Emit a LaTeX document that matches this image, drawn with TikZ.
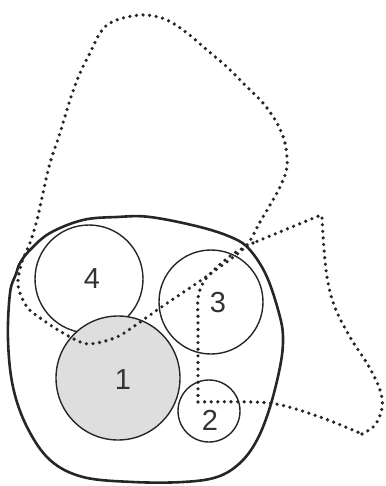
\documentclass[tikz,border=0pt]{standalone}
\usepackage{fontspec}
\setmainfont{Liberation Sans}
\begin{document}
\begin{tikzpicture}[x=1pt,y=-1pt,
  outerline/.style={line width=2.6pt,draw=black!85,line join=round},
  circ/.style={circle,draw=black!85,line width=1.4pt,inner sep=0pt},
  dots/.style={draw=black!85,line width=3.6pt,line cap=round,dash pattern=on 0pt off 6.6pt},
  lab/.style={font=\fontsize{29}{30}\selectfont,text=black!80,inner sep=0pt}]
\useasboundingbox (0,0) rectangle (385,486);
% outer solid contour
\draw[outerline] plot[smooth cycle,tension=0.6] coordinates {
 (20,263) (30,250) (50,233) (83,220) (117,217) (150,217) (200,227) (233,238) (250,250)
 (267,277) (280,317) (283,340) (280,367) (270,407) (257,440) (240,463) (217,477)
 (183,482) (133,482) (83,477) (50,460) (27,427) (13,387) (8,340) (10,293) (16,274)};
% circles
\node[circ,minimum size=108pt] (c4) at (89,279) {};
\node[circ,minimum size=124pt,fill=black!13] (c1) at (118,378) {};
\node[circ,minimum size=104pt] (c3) at (211,302) {};
\node[circ,minimum size=62pt] (c2) at (209,411) {};
% dotted loop 1
\draw[dots] plot[smooth cycle,tension=0.55] coordinates {
 (247,245) (260,222) (270,205) (280,187) (287,167) (285,143) (277,123) (263,103)
 (247,87) (227,67) (207,50) (187,33) (167,20) (147,15) (127,17) (110,23) (100,33)
 (90,53) (80,73) (70,100) (60,133) (50,163) (43,193) (37,220) (30,243) (22,262)
 (18,285) (27,307) (43,320) (63,333) (83,343) (97,343) (117,337) (133,327)
 (160,308) (200,281) (228,261)};
% dotted loop 2
\coordinate (p0) at (198,402);
\coordinate (p1) at (362,434);
\coordinate (p2) at (321,215);
\coordinate (p3) at (253,243);
\draw[dots] plot[smooth,tension=0.5] coordinates {(198,402) (270,403) (320,417) (362,434)}
  plot[smooth,tension=0.6] coordinates {(362,434) (375,425) (382,408) (380,390) (368,365)
   (350,337) (334,305) (326,270) (322,218)}
  -- (p2) -- (p3)
  plot[smooth,tension=0.6] coordinates {(253,243) (233,254) (215,269) (203,283) (198,298) (198,315)}
  -- (p0);
% labels
\node[lab] (l4) at (92,279) {4};
\node[lab] (l1) at (123,380) {1};
\node[lab] (l3) at (218,303) {3};
\node[lab] (l2) at (210,420) {2};
\end{tikzpicture}
\end{document}
